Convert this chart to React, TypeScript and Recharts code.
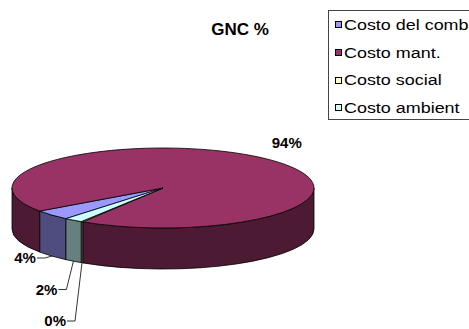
import React from 'react';
import { PieChart, Pie, Cell, Legend } from 'recharts';

// categories and values (percent of GNC)
const names = ['Costo del comb', 'Costo mant.', 'Costo social', 'Costo ambient'];
const values = [4.1, 93.7, 0.2, 2.0];
const topColors = ['#9999ff', '#993366', '#ffffcc', '#ccffff'];
const sideColors = ['#4f4d80', '#4d1a33', '#808066', '#668080'];

const TITLE = 'GNC %';
const START = 230;
const TILT = 40 / 151;
const DEPTH = 41;
const FONT = '"Liberation Sans", Arial, sans-serif';

const data = names.map((name, i) => ({ name, value: values[i] }));

// which small slices get stacked labels, left to right
const total = values.reduce((a, b) => a + b, 0);
let acc = 0;
const mids = values.map((v) => {
	const m = START - (360 * (acc + v / 2)) / total;
	acc += v;
	return m;
});
const smallIdx = values
	.map((v, i) => i)
	.filter((i) => values[i] / total < 0.1)
	.sort((a, b) => Math.cos((mids[a] * Math.PI) / 180) - Math.cos((mids[b] * Math.PI) / 180));
const smallRank: number[] = [];
smallIdx.forEach((i, r) => (smallRank[i] = r));

function idxOf(props: any) {
	const n = props.payload?.name ?? props.name;
	const i = names.indexOf(n);
	return i >= 0 ? i : props.index ?? 0;
}

function Slice3D(props: any) {
	const { cx, cy, outerRadius, startAngle, endAngle } = props;
	const i = idxOf(props);
	const rx = outerRadius;
	const ry = outerRadius * TILT;
	const pt = (a: number, dy = 0) => {
		const r = (a * Math.PI) / 180;
		return `${cx + rx * Math.cos(r)},${cy - ry * Math.sin(r) + dy}`;
	};
	const lo = Math.min(startAngle, endAngle);
	const hi = Math.max(startAngle, endAngle);
	const walls: number[][] = [];
	for (let n = -2; n <= 2; n++) {
		const u = Math.max(lo, 180 + 360 * n);
		const v = Math.min(hi, 360 + 360 * n);
		if (v > u) walls.push([u, v]);
	}
	const large = hi - lo > 180 ? 1 : 0;
	const top = `M${cx},${cy} L${pt(hi)} A${rx},${ry} 0 ${large} 1 ${pt(lo)} Z`;
	return (
		<g>
			{walls.map(([u, v], k) => (
				<path
					key={k}
					d={`M${pt(v)} A${rx},${ry} 0 0 1 ${pt(u)} L${pt(u, DEPTH)} A${rx},${ry} 0 0 0 ${pt(v, DEPTH)} Z`}
					fill={sideColors[i]}
					stroke="#000"
					strokeWidth={0.8}
				/>
			))}
			<path d={top} fill={topColors[i]} stroke="#000" strokeWidth={0.8} />
		</g>
	);
}

function renderLabel(props: any) {
	const { cx, cy, midAngle, outerRadius, percent } = props;
	const i = idxOf(props);
	const rx = outerRadius;
	const ry = outerRadius * TILT;
	const r = (midAngle * Math.PI) / 180;
	const x = cx + rx * Math.cos(r);
	const y = cy - ry * Math.sin(r);
	const text = `${Math.round(percent * 100)}%`;
	const style = { fontFamily: FONT, fontWeight: 700, fontSize: 15 };
	if (percent >= 0.1) {
		return (
			<text key={i} x={x + 20} y={y - 10.6} textAnchor="middle" fill="#000" style={style}>
				{text}
			</text>
		);
	}
	const ty = cy + ry + DEPTH - 11 + smallRank[i] * 31.5;
	return (
		<g key={i}>
			<polyline
				points={`${x},${y + DEPTH} ${x - 7},${ty} ${x - 15},${ty}`}
				fill="none"
				stroke="#000"
				strokeWidth={0.8}
			/>
			<text x={x - 16} y={ty + 5.4} textAnchor="end" fill="#000" style={style}>
				{text}
			</text>
		</g>
	);
}

function LegendBox() {
	return (
		<div style={{ width: 200, height: 110, border: '1px solid #444', boxSizing: 'border-box', position: 'relative', background: '#fff' }}>
			{names.map((n, k) => (
				<div key={n} style={{ position: 'absolute', left: 6, top: k * 27.7, height: 27.7, display: 'flex', alignItems: 'center' }}>
					<span style={{ width: 5, height: 5, border: '1px solid #000', background: topColors[k], display: 'inline-block' }} />
					<span
						style={{
							fontFamily: FONT,
							fontSize: 14,
							marginLeft: 2,
							whiteSpace: 'nowrap',
							display: 'inline-block',
							transform: 'scaleX(1.28)',
							transformOrigin: 'left center',
						}}
					>
						{n}
					</span>
				</div>
			))}
		</div>
	);
}

export default function App() {
	return (
		<div style={{ position: 'absolute', left: 0, top: 0, width: 469, height: 329, background: '#fff', overflow: 'hidden' }}>
			<PieChart width={469} height={329} margin={{ top: 0, right: 0, bottom: 0, left: 0 }}>
				<Pie
					data={data}
					dataKey="value"
					nameKey="name"
					cx={163}
					cy={188}
					outerRadius={151}
					startAngle={START}
					endAngle={START - 360}
					stroke="#000"
					shape={Slice3D}
					activeShape={Slice3D}
					inactiveShape={Slice3D}
					label={renderLabel}
					labelLine={false}
					isAnimationActive={false}
				>
					{data.map((d, i) => (
						<Cell key={d.name} fill={topColors[i]} />
					))}
				</Pie>
				<Legend
					layout="vertical"
					align="right"
					verticalAlign="top"
					content={LegendBox}
					wrapperStyle={{ position: 'absolute', left: 328, top: 10, width: 200, right: 'auto' }}
				/>
			</PieChart>
			<div
				style={{
					position: 'absolute',
					left: 190,
					top: 20,
					width: 100,
					textAlign: 'center',
					fontFamily: FONT,
					fontWeight: 700,
					fontSize: 17,
					lineHeight: '20px',
				}}
			>
				{TITLE}
			</div>
		</div>
	);
}
